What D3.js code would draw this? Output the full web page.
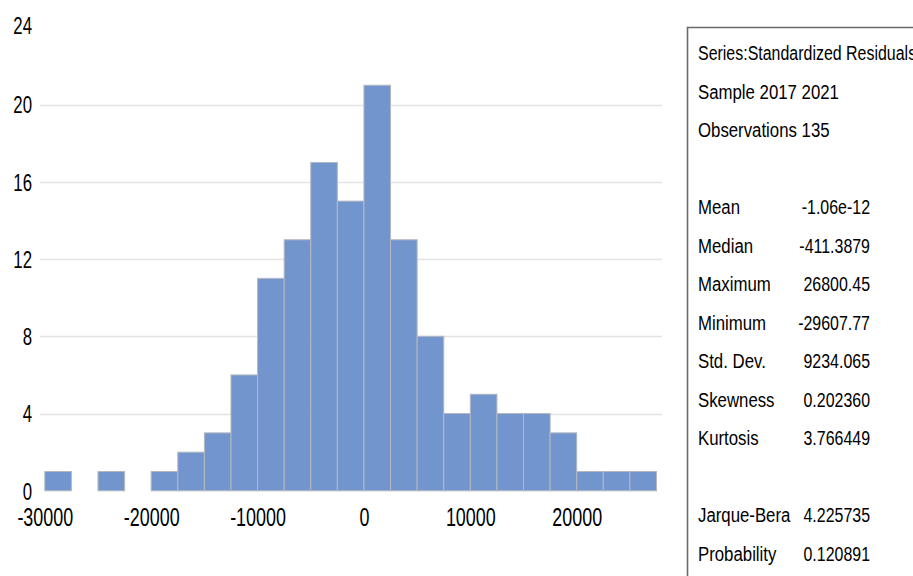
<!DOCTYPE html>
<html>
<head>
<meta charset="utf-8">
<script src="https://cdn.jsdelivr.net/npm/d3@7"></script>
<style>
  body { margin: 0; background: #fff; }
  svg { display: block; }
  text { font-family: "Liberation Sans", Arial, sans-serif; fill: #000; }
</style>
</head>
<body>
<div id="chart-area"></div>
<script>
// histogram bins (lower edge of each 2500 wide bin) and counts
var binStarts = [-30000, -27500, -25000, -22500, -20000, -17500, -15000, -12500, -10000, -7500,
                 -5000, -2500, 0, 2500, 5000, 7500, 10000, 12500, 15000, 17500, 20000, 22500, 25000];
var counts = [1, 0, 1, 0, 1, 2, 3, 6, 11, 13, 17, 15, 21, 13, 8, 4, 5, 4, 4, 3, 1, 1, 1];
var binWidth = 2500;

var xTicks = [-30000, -20000, -10000, 0, 10000, 20000];
var yTicks = [0, 4, 8, 12, 16, 20, 24];

// stats panel
var headerLines = ["Series:Standardized Residuals", "Sample 2017 2021", "Observations 135"];
var statNames = ["Mean", "Median", "Maximum", "Minimum", "Std. Dev.", "Skewness", "Kurtosis", "", "Jarque-Bera", "Probability"];
var statValues = ["-1.06e-12", "-411.3879", "26800.45", "-29607.77", "9234.065", "0.202360", "3.766449", "", "4.225735", "0.120891"];

var W = 913, H = 576;
var svg = d3.select("#chart-area")
  .append("svg")
  .attr("width", W)
  .attr("height", H);

var xScale = d3.scaleLinear()
  .domain([-30000, 27500])
  .range([44.8, 656.5]);

var yScale = d3.scaleLinear()
  .domain([0, 24])
  .range([490.8, 27.3]);

// gridlines (no line at 0 or 24)
svg.append("g")
  .selectAll("line")
  .data(yTicks.filter(function(d) { return d > 0 && d < 24; }))
  .enter()
  .append("line")
  .attr("x1", 40)
  .attr("x2", 662)
  .attr("y1", function(d) { return Math.round(yScale(d)) + 0.5; })
  .attr("y2", function(d) { return Math.round(yScale(d)) + 0.5; })
  .attr("stroke", "#e3e3e3")
  .attr("stroke-width", 1.5);

// bars
var bins = binStarts.map(function(s, i) { return {x0: s, x1: s + binWidth, n: counts[i]}; });
svg.append("g")
  .selectAll("rect")
  .data(bins.filter(function(d) { return d.n > 0; }))
  .enter()
  .append("rect")
  .attr("x", function(d) { return xScale(d.x0); })
  .attr("width", function(d) { return xScale(d.x1) - xScale(d.x0); })
  .attr("y", function(d) { return yScale(d.n); })
  .attr("height", function(d) { return yScale(0) - yScale(d.n); })
  .attr("fill", "#7395cd")
  .attr("stroke", "#b4b8c0")
  .attr("stroke-width", 1);

// x axis labels (plain hyphen minus like the original)
var xAxis = d3.axisBottom(xScale).tickValues(xTicks).tickSize(0).tickPadding(0)
  .tickFormat(function(d) { return String(d); });
var gx = svg.append("g")
  .attr("class", "x-axis")
  .attr("transform", "translate(0,508)")
  .call(xAxis);
gx.select(".domain").remove();
gx.selectAll("text")
  .attr("y", 0)
  .attr("dy", "0.71em")
  .style("font-size", "26px")
  .style("font-family", "'Liberation Sans', Arial, sans-serif")
  .attr("transform", "scale(0.69,1)");

// y axis labels
var yAxis = d3.axisLeft(yScale).tickValues(yTicks).tickSize(0).tickPadding(0);
var gy = svg.append("g")
  .attr("class", "y-axis")
  .attr("transform", "translate(32,0)")
  .call(yAxis);
gy.select(".domain").remove();
gy.selectAll("text")
  .attr("x", 0)
  .attr("dy", "0.35em")
  .style("font-size", "24px")
  .style("font-family", "'Liberation Sans', Arial, sans-serif")
  .attr("transform", "scale(0.7,1)");
// nudge top label up slightly as in the reference
gy.selectAll(".tick").filter(function(d) { return d === 24; })
  .attr("transform", "translate(0," + (yScale(24) - 2) + ")");

// stats box
var box = svg.append("g");
box.append("path")
  .attr("d", "M687.5,576 L687.5,27.5 L913,27.5")
  .attr("fill", "none")
  .attr("stroke", "#6a6a6a")
  .attr("stroke-width", 1.6);

var rowStep = 38.5, firstRow = 53;
var rows = headerLines.map(function(t) { return {name: t, value: ""}; })
  .concat([{name: "", value: ""}])
  .concat(statNames.map(function(n, i) { return {name: n, value: statValues[i]}; }));

var rowG = box.selectAll("g.row")
  .data(rows)
  .enter()
  .append("g")
  .attr("class", "row")
  .attr("transform", function(d, i) { return "translate(0," + (firstRow + i * rowStep) + ")"; });

rowG.append("text")
  .attr("transform", function(d, i) { return "translate(698,0) scale(" + (i === 0 ? 0.76 : 0.8) + ",1)"; })
  .attr("dy", "0.35em")
  .style("font-size", "21px")
  .text(function(d) { return d.name; });

rowG.append("text")
  .attr("transform", "translate(870,0) scale(0.76,1)")
  .attr("text-anchor", "end")
  .attr("dy", "0.35em")
  .style("font-size", "21px")
  .text(function(d) { return d.value; });
</script>
</body>
</html>
